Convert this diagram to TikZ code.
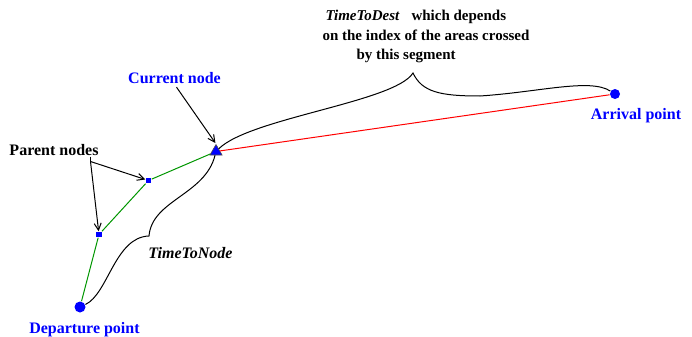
\documentclass[tikz,border=0pt]{standalone}
\usepackage{fontspec}
\setmainfont{Liberation Serif}
\usepackage{tikz}
\usetikzlibrary{arrows.meta,positioning,shapes.geometric}
\definecolor{figgreen}{RGB}{0,150,0}

\begin{document}
\begin{tikzpicture}[x=0.5pt, y=-0.5pt, line width=0.5pt,
    every node/.style={font=\fontsize{8}{9.5}\selectfont\bfseries, inner sep=0pt},
    endpt/.style={circle, fill=blue, minimum size=#1},
    parent/.style={rectangle, fill=blue, minimum size=2.7pt},
    bluelbl/.style={text=blue},
    ptr/.style={-{Straight Barb[length=3.5pt,width=3.5pt]}}]
    \useasboundingbox (0,0) rectangle (692,337);

    % Points of the route
    \node[endpt=5.5pt] (dep) at (80,307) {};
    \node[parent] (par1) at (99,234.5) {};
    \node[parent] (par2) at (148.5,180.5) {};
    \node[regular polygon, regular polygon sides=3, fill=blue, draw=black!70,
          line width=0.3pt, minimum size=7pt] (cur) at (216,151.5) {};
    \node[endpt=5pt] (arr) at (615,94) {};

    % Labels
    \node[bluelbl] (deplbl) at (84.5,329.5) {Departure point};
    \node[bluelbl] (arrlbl) at (636,116) {Arrival point};
    \node[bluelbl] (curlbl) at (174.5,78) {Current node};
    \node (parlbl) at (54,150.5) {Parent nodes};
    \node (nodelbl) at (190.5,253) {\textit{TimeToNode}};
    \node[anchor=north west, align=left, font=\fontsize{7.5}{9.6}\selectfont\bfseries]
        (destlbl) at (322,10)
        {\hspace{1.5pt}\textit{TimeToDest}\hspace{4pt} which depends\\
         on the index of the areas crossed\\
         \hspace{17pt}by this segment};

    % Route already built
    \draw[figgreen] (dep) -- (par1) -- (par2) -- (cur);
    % Remaining segment
    \draw[red] (cur) -- (arr);

    % Pointers
    \coordinate (fork) at (90.5,161.5);
    \draw (parlbl.south -| fork) -- (fork);
    \draw[ptr] (fork) -- (par1);
    \draw[ptr] (fork) -- (par2);
    \draw[ptr, shorten >=0.5pt] (curlbl.south) ++(2,3) -- (cur.north);

    % Braces
    \coordinate (tipnode) at (149,236);
    \coordinate (tipdest) at (413,73);
    \draw (dep) .. controls (108,294) and (115,237) .. (tipnode)
        .. controls (152,200) and (205,195) .. (cur);
    \draw (cur) .. controls (250,118) and (395,102) .. (tipdest)
        .. controls (422,92) and (440,96) .. (480,96)
        .. controls (540,92) and (590,78) .. (arr);
\end{tikzpicture}
\end{document}
